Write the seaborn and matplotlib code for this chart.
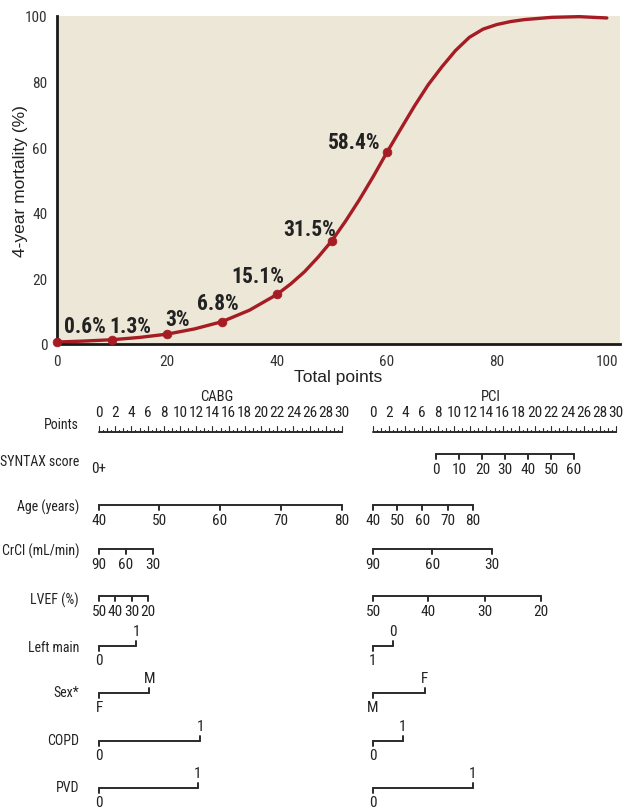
import numpy as np
import pandas as pd
import seaborn as sns
import matplotlib.pyplot as plt
from matplotlib import transforms

# --- top panel: 4-year mortality vs total points ---
curve_x = [0, 5, 10, 15, 20, 25, 30, 35, 40, 42.5, 45, 47.5, 50, 52.5, 55, 57.5, 60,
           62.5, 65, 67.5, 70, 72.5, 75, 77.5, 80, 82.5, 85, 90, 95, 100]
curve_y = [0.6, 0.9, 1.3, 2.0, 3.0, 4.6, 6.8, 10.3, 15.1, 18.3, 22.0, 26.5, 31.5, 37.5, 44.0, 51.0, 58.4,
           65.5, 72.5, 79.0, 84.5, 89.5, 93.5, 96.0, 97.4, 98.3, 98.9, 99.6, 99.8, 99.4]
point_x = [0, 10, 20, 30, 40, 50, 60]
point_y = [0.6, 1.3, 3.0, 6.8, 15.1, 31.5, 58.4]
point_labels = ['0.6%', '1.3%', '3%', '6.8%', '15.1%', '31.5%', '58.4%']

# --- nomogram ---
rows = ['SYNTAX score', 'Age (years)', 'CrCl (mL/min)', 'LVEF (%)',
        'Left main', 'Sex*', 'COPD', 'PVD']
row_kind = ['cont', 'cont', 'cont', 'cont', 'bin', 'bin', 'bin', 'bin']

cabg_labels = [['0+'], ['40', '50', '60', '70', '80'], ['90', '60', '30'],
               ['50', '40', '30', '20'], ['0', '1'], ['F', 'M'], ['0', '1'], ['0', '1']]
cabg_points = [[0], [0, 7.4, 14.9, 22.5, 30], [0, 3.3, 6.7], [0, 2.0, 4.1, 6.0],
               [0, 4.6], [0, 6.2], [0, 12.5], [0, 12.2]]

pci_labels = [['0', '10', '20', '30', '40', '50', '60'], ['40', '50', '60', '70', '80'],
              ['90', '60', '30'], ['50', '40', '30', '20'], ['1', '0'], ['M', 'F'],
              ['0', '1'], ['0', '1']]
pci_points = [[7.8, 10.6, 13.5, 16.3, 19.1, 22.0, 24.8], [0, 3.0, 6.1, 9.2, 12.3],
              [0, 7.3, 14.7], [0, 6.8, 13.8, 20.7], [0, 2.5], [0, 6.4], [0, 3.7], [0, 12.3]]

# layout (pixel rows of the figure)
line_y = [455, 506, 550, 597, 647, 694, 742, 789]
label_y = [462, 507, 551, 600, 648, 693, 741, 788]

red = '#a51c24'
ink = '#2b2b2b'
txt = '#222222'
bg = '#ece7d6'

sns.set_style('white')
plt.rcParams['font.family'] = ['Roboto Condensed', 'Archivo Narrow', 'DejaVu Sans']

W, H = 623, 812
fig = plt.figure(figsize=(W / 100, H / 100), dpi=100)

ax = fig.add_axes([57 / W, 1 - 345 / H, (620 - 57) / W, (345 - 17) / H])
ax.set_facecolor(bg)
sns.lineplot(x=curve_x, y=curve_y, color=red, lw=2.4, ax=ax, clip_on=False)
sns.scatterplot(x=point_x, y=point_y, color=red, s=40, edgecolor=red, ax=ax,
                zorder=5, clip_on=False)
label_pos = [(5.0, 5.4), (13.3, 5.4), (22.0, 7.6), (29.3, 12.5), (36.5, 20.7), (46.0, 35.0), (54.0, 61.6)]
for (lx, ly), t in zip(label_pos, point_labels):
    ax.text(lx, ly, t, fontsize=15.5, fontweight='bold', color=txt,
            ha='center', va='center')
ax.set_xlim(0, 102.4)
ax.set_ylim(0, 100)
ax.set_xticks([0, 20, 40, 60, 80, 100])
ax.set_yticks([0, 20, 40, 60, 80, 100])
for s in ['top', 'right']:
    ax.spines[s].set_visible(False)
for s in ['left', 'bottom']:
    ax.spines[s].set_color('#1a1a1a')
    ax.spines[s].set_linewidth(2)
ax.tick_params(direction='out', length=5, width=1, colors='#333333', labelsize=11, pad=2)
ax.set_xlabel('Total points', fontsize=12.5, family='Liberation Sans', labelpad=1, color=txt)
ax.set_ylabel('4-year mortality (%)', fontsize=12.5, family='Liberation Sans', color=txt)
ax.yaxis.set_label_coords(-0.052, 0.5)

# nomogram panels
top_px = 385
panels = [(99, 'CABG', cabg_labels, cabg_points), (373, 'PCI', pci_labels, pci_points)]
axes_n = []
fs = 10    # row labels
fn = 11    # numbers
for x0, title, labs, pts in panels:
    a = fig.add_axes([x0 / W, 0, 243 / W, (H - top_px) / H])
    a.set_xlim(0, 30)
    a.set_ylim(H, top_px)
    a.axis('off')
    axes_n.append(a)
    kw = dict(color=ink, lw=1.4, clip_on=False)
    # points scale
    py = 433
    a.plot([0, 30], [py, py], **kw)
    for t in np.arange(0, 30.01, 0.5):
        ln = 6 if t % 2 == 0 else (4 if t % 1 == 0 else 2.5)
        a.plot([t, t], [py, py - ln], color=ink, lw=0.8, clip_on=False)
    for t in range(0, 31, 2):
        a.text(t, 413, str(t), fontsize=fn, ha='center', va='center', color=txt)
    a.text(14.5, 397, title, fontsize=10.5, ha='center', va='center', color=txt)
    for i, kind in enumerate(row_kind):
        y = line_y[i]
        p = pts[i]
        l = labs[i]
        if len(p) == 1:
            a.text(p[0], y + 14, l[0], fontsize=fn, ha='center', va='center', color=txt)
            continue
        if kind == 'cont':
            a.plot([min(p), max(p)], [y, y], **kw)
            for v, t in zip(p, l):
                a.plot([v, v], [y, y + 5], **kw)
                a.text(v, y + 15, t, fontsize=fn, ha='center', va='center', color=txt)
        else:
            a.plot([p[0], p[1]], [y, y], **kw)
            a.plot([p[0], p[0]], [y, y + 5], **kw)
            a.plot([p[1], p[1]], [y, y - 5], **kw)
            a.text(p[0], y + 14, l[0], fontsize=fn, ha='center', va='center', color=txt)
            a.text(p[1], y - 15, l[1], fontsize=fn, ha='center', va='center', color=txt)

# row labels on the left
tr = transforms.blended_transform_factory(fig.transFigure, axes_n[0].transData)
fig.text(79 / W, 425, 'Points', transform=tr, fontsize=fs, ha='right', va='center', color=txt)
for name, y in zip(rows, label_y):
    fig.text(79 / W, y, name, transform=tr, fontsize=fs, ha='right', va='center', color=txt)

fig.savefig('out.png', dpi=100)
